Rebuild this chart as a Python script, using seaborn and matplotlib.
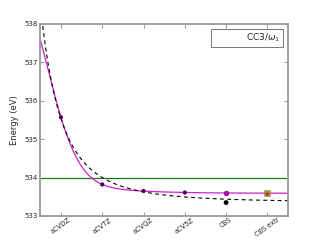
import numpy as np
import pandas as pd
import matplotlib
matplotlib.use("Agg")
import matplotlib.pyplot as plt
import seaborn as sns
from matplotlib.lines import Line2D

# ---- data ----
basis_labels = ["aCVDZ", "aCVTZ", "aCVQZ", "aCV5Z", "CBS", "CBS extr"]
positions = [1, 2, 3, 4, 5, 6]
cardinal = [2, 3, 4, 5]                       # D, T, Q, 5
energies = [535.57, 533.82, 533.65, 533.61]   # eV
cbs_mixed = 533.60
cbs_x3 = 533.35
cbs_extr_square = 533.60
cbs_extr_star = 533.57
reference_energy = 534.0
legend_label = "CC3/$\\omega_1$"

sns.set_theme(style="ticks")
plt.rcParams["font.family"] = ["DejaVu Sans"]

fig = plt.figure(figsize=(3.2, 2.4), dpi=100)
ax = fig.add_axes([0.126, 0.10, 0.774, 0.801])

# ---- fits through the basis-set points ----
X = np.array(cardinal, dtype=float)
E = np.array(energies)
# mixed exponential/gaussian fit: E = a + b exp(-(X-1)) + c exp(-(X-1)^2)
A_mix = np.column_stack([np.ones_like(X), np.exp(-(X - 1)), np.exp(-(X - 1) ** 2)])
p_mix = np.linalg.lstsq(A_mix, E, rcond=None)[0]
# inverse-cube fit: E = a + b / X^3
A_x3 = np.column_stack([np.ones_like(X), X ** -3])
p_x3 = np.linalg.lstsq(A_x3, E, rcond=None)[0]

xg = np.linspace(0.5, 6.5, 400)
Xg = xg + 1
curve_mix = p_mix[0] + p_mix[1] * np.exp(-(Xg - 1)) + p_mix[2] * np.exp(-(Xg - 1) ** 2)
curve_x3 = p_x3[0] + p_x3[1] * Xg ** -3

curves = pd.DataFrame({"x": xg, "mix": curve_mix, "x3": curve_x3})

ax.axhline(reference_energy, color="#1a7f1a", lw=0.9, zorder=1)
sns.lineplot(data=curves, x="x", y="mix", ax=ax, color="#d020d0", lw=0.9,
             zorder=2, legend=False)
sns.lineplot(data=curves, x="x", y="x3", ax=ax, color="black", lw=0.8,
             dashes=False, zorder=2, legend=False)
ax.lines[-1].set_dashes([3.5, 3])

pts = pd.DataFrame({"x": positions[:4], "E": energies})
sns.scatterplot(data=pts, x="x", y="E", ax=ax, color="#c000c0", s=9,
                edgecolor="none", zorder=3)
sns.scatterplot(data=pts, x="x", y="E", ax=ax, color="#300030", s=7,
                edgecolor="none", zorder=4, alpha=0.85)
sns.scatterplot(x=[positions[4]], y=[cbs_mixed], ax=ax, color="#b000b0",
                s=12, edgecolor="#700070", linewidth=0.4, zorder=4)
sns.scatterplot(x=[positions[4]], y=[cbs_x3], ax=ax, color="black", s=12,
                edgecolor="none", zorder=4)
sns.scatterplot(x=[positions[5]], y=[cbs_extr_square], ax=ax, color="#b0a020",
                marker="s", s=16, edgecolor="#808080", linewidth=0.4, zorder=4)
sns.scatterplot(x=[positions[5]], y=[cbs_extr_star], ax=ax, color="#d01010",
                marker="*", s=14, edgecolor="none", zorder=5)

ax.set_xlim(0.5, 6.5)
ax.set_ylim(533, 538)
ax.set_xticks(positions)
ax.set_xticklabels(basis_labels, rotation=36, ha="center", fontsize=4.8)
ax.set_yticks([533, 534, 535, 536, 537, 538])
ax.set_yticklabels(["533", "534", "535", "536", "537", "538"], fontsize=5)
ax.set_xlabel("")
ax.set_ylabel("Energy (eV)", fontsize=6, labelpad=4)
ax.tick_params(direction="in", length=3, width=0.6, color="#888888",
               top=True, right=True, pad=2)
ax.tick_params(axis="x", pad=0.5)
for s in ax.spines.values():
    s.set_color("#999999")
    s.set_linewidth(1.3)

leg = ax.legend(handles=[Line2D([], [], color="none")], labels=[legend_label],
                loc="upper right", fontsize=6.5, fancybox=False, frameon=True,
                edgecolor="#555555", handlelength=3.0, handletextpad=0.6,
                borderpad=0.3, borderaxespad=0,
                bbox_to_anchor=(0.98, 0.974))
leg.get_frame().set_linewidth(0.7)

fig.savefig("out.png", dpi=100)
